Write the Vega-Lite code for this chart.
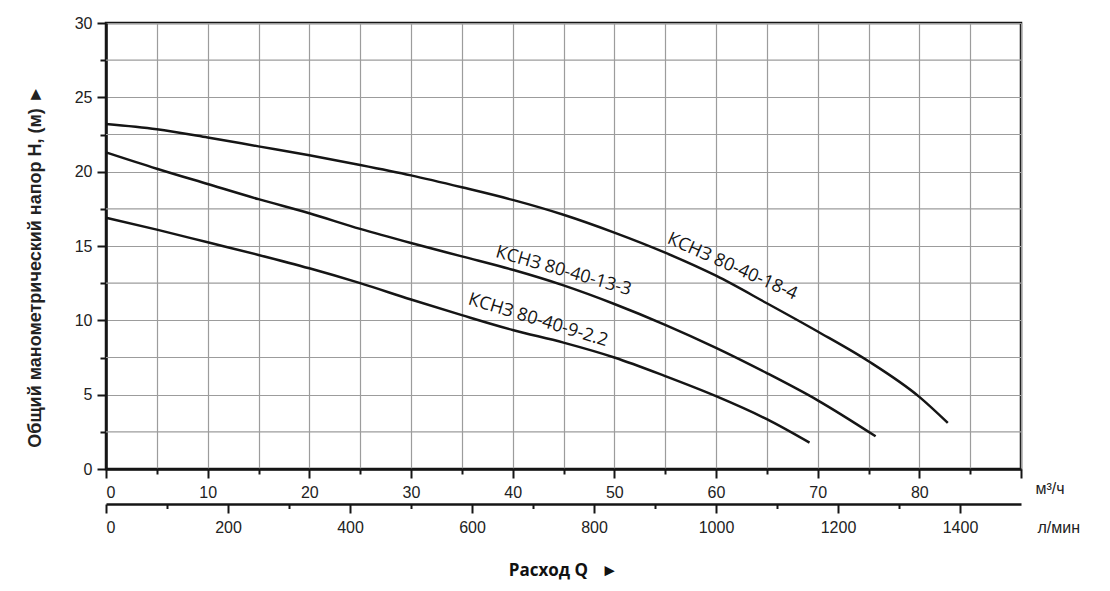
{
  "$schema": "https://vega.github.io/schema/vega-lite/v6.json",
  "width": 915,
  "height": 446,
  "autosize": {"type": "none"},
  "padding": {"left": 106, "top": 23, "right": 89, "bottom": 122},
  "background": "white",
  "title": {
    "text": "Расход Q\u00a0\u00a0\u00a0►",
    "orient": "bottom",
    "anchor": "middle",
    "font": "Open Sans",
    "fontSize": 17,
    "fontWeight": "bold",
    "color": "#111",
    "offset": 28
  },
  "datasets": {
    "curves": [
      {"model": "КСНЗ 80-40-18-4", "Q": 0, "H": 23.2},
      {"model": "КСНЗ 80-40-18-4", "Q": 5, "H": 22.85},
      {"model": "КСНЗ 80-40-18-4", "Q": 10, "H": 22.3},
      {"model": "КСНЗ 80-40-18-4", "Q": 15, "H": 21.7},
      {"model": "КСНЗ 80-40-18-4", "Q": 20, "H": 21.1},
      {"model": "КСНЗ 80-40-18-4", "Q": 25, "H": 20.45},
      {"model": "КСНЗ 80-40-18-4", "Q": 30, "H": 19.75},
      {"model": "КСНЗ 80-40-18-4", "Q": 35, "H": 18.95},
      {"model": "КСНЗ 80-40-18-4", "Q": 40, "H": 18.1},
      {"model": "КСНЗ 80-40-18-4", "Q": 45, "H": 17.1},
      {"model": "КСНЗ 80-40-18-4", "Q": 50, "H": 15.9},
      {"model": "КСНЗ 80-40-18-4", "Q": 55, "H": 14.55},
      {"model": "КСНЗ 80-40-18-4", "Q": 60, "H": 13.0},
      {"model": "КСНЗ 80-40-18-4", "Q": 65, "H": 11.15},
      {"model": "КСНЗ 80-40-18-4", "Q": 70, "H": 9.25},
      {"model": "КСНЗ 80-40-18-4", "Q": 75, "H": 7.25},
      {"model": "КСНЗ 80-40-18-4", "Q": 80, "H": 4.85},
      {"model": "КСНЗ 80-40-18-4", "Q": 82.8, "H": 3.1},
      {"model": "КСНЗ 80-40-13-3", "Q": 0, "H": 21.3},
      {"model": "КСНЗ 80-40-13-3", "Q": 5, "H": 20.2},
      {"model": "КСНЗ 80-40-13-3", "Q": 10, "H": 19.17},
      {"model": "КСНЗ 80-40-13-3", "Q": 15, "H": 18.15},
      {"model": "КСНЗ 80-40-13-3", "Q": 20, "H": 17.2},
      {"model": "КСНЗ 80-40-13-3", "Q": 25, "H": 16.15},
      {"model": "КСНЗ 80-40-13-3", "Q": 30, "H": 15.2},
      {"model": "КСНЗ 80-40-13-3", "Q": 35, "H": 14.3},
      {"model": "КСНЗ 80-40-13-3", "Q": 40, "H": 13.4},
      {"model": "КСНЗ 80-40-13-3", "Q": 45, "H": 12.35},
      {"model": "КСНЗ 80-40-13-3", "Q": 50, "H": 11.1},
      {"model": "КСНЗ 80-40-13-3", "Q": 55, "H": 9.7},
      {"model": "КСНЗ 80-40-13-3", "Q": 60, "H": 8.15},
      {"model": "КСНЗ 80-40-13-3", "Q": 65, "H": 6.45},
      {"model": "КСНЗ 80-40-13-3", "Q": 70, "H": 4.62},
      {"model": "КСНЗ 80-40-13-3", "Q": 75.7, "H": 2.2},
      {"model": "КСНЗ 80-40-9-2.2", "Q": 0, "H": 16.9},
      {"model": "КСНЗ 80-40-9-2.2", "Q": 5, "H": 16.1},
      {"model": "КСНЗ 80-40-9-2.2", "Q": 10, "H": 15.25},
      {"model": "КСНЗ 80-40-9-2.2", "Q": 15, "H": 14.4},
      {"model": "КСНЗ 80-40-9-2.2", "Q": 20, "H": 13.5},
      {"model": "КСНЗ 80-40-9-2.2", "Q": 25, "H": 12.5},
      {"model": "КСНЗ 80-40-9-2.2", "Q": 30, "H": 11.4},
      {"model": "КСНЗ 80-40-9-2.2", "Q": 35, "H": 10.35},
      {"model": "КСНЗ 80-40-9-2.2", "Q": 40, "H": 9.35},
      {"model": "КСНЗ 80-40-9-2.2", "Q": 45, "H": 8.5},
      {"model": "КСНЗ 80-40-9-2.2", "Q": 50, "H": 7.5},
      {"model": "КСНЗ 80-40-9-2.2", "Q": 55, "H": 6.25},
      {"model": "КСНЗ 80-40-9-2.2", "Q": 60, "H": 4.9},
      {"model": "КСНЗ 80-40-9-2.2", "Q": 65, "H": 3.35},
      {"model": "КСНЗ 80-40-9-2.2", "Q": 69.2, "H": 1.77}
    ],
    "labels": [
      {"model": "КСНЗ 80-40-18-4", "Q": 61.6, "H": 13.6},
      {"model": "КСНЗ 80-40-13-3", "Q": 45.0, "H": 13.3},
      {"model": "КСНЗ 80-40-9-2.2", "Q": 42.5, "H": 10.0}
    ],
    "minorGrid": [
      {"H": 2.5}, {"H": 7.5}, {"H": 12.5}, {"H": 17.5}, {"H": 22.5}, {"H": 27.5}
    ]
  },
  "layer": [
    {
      "data": {"name": "minorGrid"},
      "mark": {"type": "rule", "color": "#9c9c9c", "strokeWidth": 1.2},
      "encoding": {
        "y": {"field": "H", "type": "quantitative", "scale": {"domain": [0, 30], "nice": false}, "axis": null}
      }
    },
    {
      "data": {"name": "curves"},
      "mark": {"type": "line", "interpolate": "monotone", "color": "#151515", "strokeWidth": 2.5},
      "encoding": {
        "x": {
          "field": "Q",
          "type": "quantitative",
          "scale": {"domain": [0, 90], "nice": false, "zero": true},
          "axis": {
            "values": [0, 5, 10, 15, 20, 25, 30, 35, 40, 45, 50, 55, 60, 65, 70, 75, 80, 85, 90],
            "labelExpr": "datum.value % 10 == 0 && datum.value < 90 ? datum.label : ''",
            "tickSize": {"condition": {"test": "datum.value % 10 == 0", "value": 9}, "value": 5},
            "labelPadding": 6,
            "title": "м³/ч",
            "titleX": 929,
            "titleY": 19,
            "titleAlign": "left",
            "titleBaseline": "middle",
            "titleFontWeight": "normal",
            "grid": true
          }
        },
        "y": {
          "field": "H",
          "type": "quantitative",
          "scale": {"domain": [0, 30], "nice": false},
          "axis": {
            "orient": "left",
            "values": [0, 5, 10, 15, 20, 25, 30],
            "tickSize": 9,
            "labelPadding": 5,
            "title": "Общий манометрический напор H, (м) ►",
            "titleX": -71,
            "titleY": 243,
            "titleAngle": 270,
            "titleAlign": "center",
            "titleBaseline": "middle",
            "titleFontWeight": "bold",
            "titleFontSize": 18,
            "grid": true
          }
        },
        "detail": {"field": "model", "type": "nominal"}
      }
    },
    {
      "data": {"name": "labels"},
      "mark": {"type": "text", "font": "Open Sans", "fontSize": 18, "color": "#151515", "align": "center", "baseline": "middle"},
      "encoding": {
        "x": {
          "field": "Q",
          "type": "quantitative",
          "scale": {"domain": [0, 90], "nice": false, "zero": true},
          "axis": {
            "orient": "bottom",
            "offset": 35,
            "values": [0, 6, 12, 18, 24, 30, 36, 42, 48, 54, 60, 66, 72, 78, 84],
            "labelExpr": "datum.value % 12 == 0 ? format(datum.value * 50 / 3, 'd') : ''",
            "tickSize": {"condition": {"test": "datum.value % 12 == 0", "value": 9}, "value": 4.5},
            "labelPadding": 6,
            "grid": false,
            "title": "л/мин",
            "titleX": 931,
            "titleY": 23,
            "titleAlign": "left",
            "titleBaseline": "middle",
            "titleFontWeight": "normal"
          }
        },
        "y": {
          "field": "H",
          "type": "quantitative",
          "scale": {"domain": [0, 30], "nice": false},
          "axis": {
            "orient": "left",
            "values": [2.5, 7.5, 12.5, 17.5, 22.5, 27.5],
            "labels": false,
            "domain": false,
            "tickSize": 6,
            "title": null,
            "minExtent": 0,
            "maxExtent": 0,
            "grid": false
          }
        },
        "text": {"field": "model", "type": "nominal"},
        "angle": {
          "condition": [
            {"test": "datum.model == 'КСНЗ 80-40-18-4'", "value": 24},
            {"test": "datum.model == 'КСНЗ 80-40-9-2.2'", "value": 17}
          ],
          "value": 16
        }
      }
    }
  ],
  "resolve": {"axis": {"x": "independent", "y": "independent"}},
  "config": {
    "view": {"stroke": "#151515", "strokeWidth": 2.5},
    "axis": {
      "domainColor": "#151515",
      "domainWidth": 2.5,
      "tickColor": "#151515",
      "tickWidth": 2,
      "gridColor": "#9c9c9c",
      "gridWidth": 1.2,
      "labelFont": "Liberation Sans",
      "labelFontSize": 16,
      "labelColor": "#222",
      "titleFont": "Liberation Sans",
      "titleFontSize": 16,
      "titleColor": "#222"
    }
  }
}
